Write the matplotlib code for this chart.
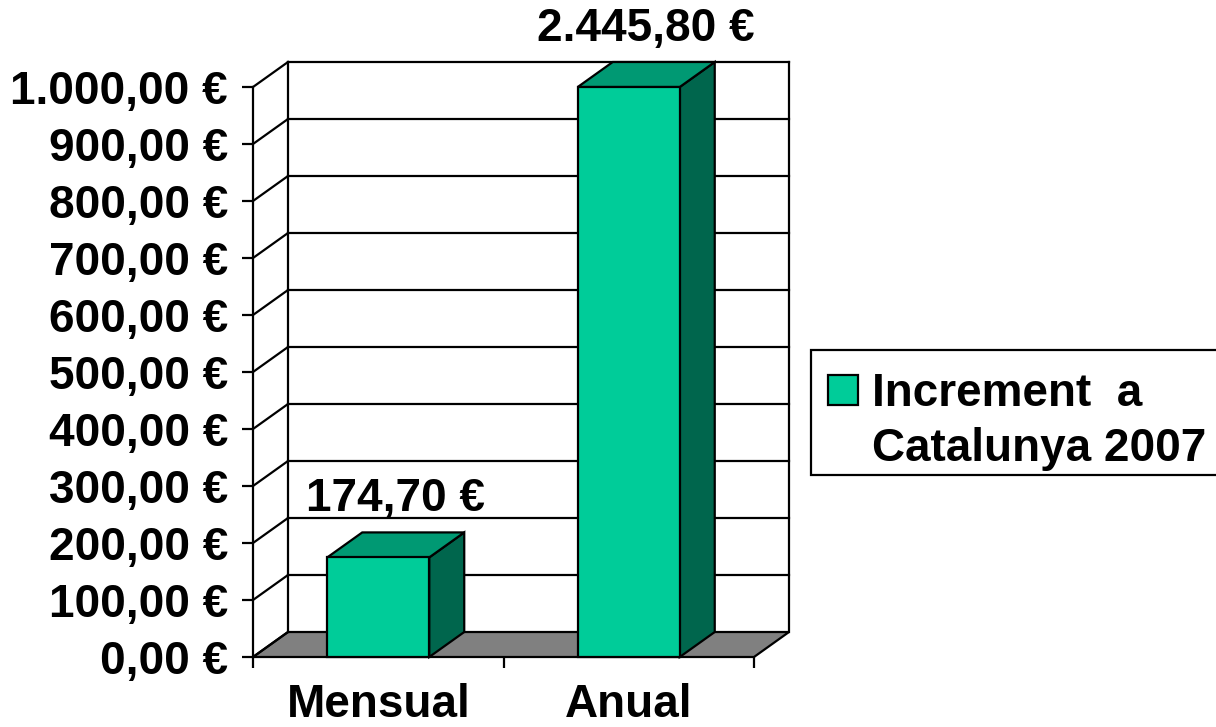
import matplotlib
matplotlib.use("Agg")
import matplotlib.pyplot as plt
from matplotlib.patches import Polygon, Rectangle

plt.rcParams['font.family'] = ['Liberation Sans', 'DejaVu Sans']
plt.rcParams['font.weight'] = 'bold'

# data
categories = ["Mensual", "Anual"]
values = [174.70, 2445.80]
series_name = "Increment  a\nCatalunya 2007"
y_max = 1000
y_ticks = list(range(0, 1001, 100))

# colours
front_col = "#00CC99"
top_col = "#009973"
side_col = "#00664D"
floor_col = "#808080"

FS = 33

def euro(v):
    s = f"{v:,.2f}"
    s = s.replace(",", "X").replace(".", ",").replace("X", ".")
    return s + " €"

fig = plt.figure(figsize=(12.16, 7.27), dpi=100)
W, H = 1216, 727
ax = fig.add_axes([253 / W, 70 / H, 501 / W, 570 / H])
ax.set_xlim(0, len(categories))
ax.set_ylim(0, y_max)

# depth of the 3D effect in data units (35 px right, 25 px up)
ddx = 35 / 250.5
ddy = 25 / 0.57
n = len(categories)
lw = 1.6

def poly(pts, fc, z):
    ax.add_patch(Polygon(pts, closed=True, facecolor=fc, edgecolor="black",
                         linewidth=lw, clip_on=False, zorder=z))

# floor
poly([(0, 0), (n, 0), (n + ddx, ddy), (ddx, ddy)], floor_col, 1)

# back wall gridlines and side wall diagonals
for t in y_ticks:
    if t > 0:
        ax.plot([ddx, n + ddx], [t + ddy, t + ddy], color="black", lw=lw,
                clip_on=False, zorder=1)
    ax.plot([0, ddx], [t, t + ddy], color="black", lw=lw, clip_on=False, zorder=1)
ax.plot([ddx, ddx], [ddy, y_max + ddy], color="black", lw=lw, clip_on=False, zorder=1)
ax.plot([n + ddx, n + ddx], [ddy, y_max + ddy], color="black", lw=lw, clip_on=False, zorder=1)

# bars
bw = 102 / 250.5
for i, v in enumerate(values):
    h = min(v, y_max)
    x0 = i + 0.5 - bw / 2
    x1 = i + 0.5 + bw / 2
    poly([(x1, 0), (x1 + ddx, ddy), (x1 + ddx, h + ddy), (x1, h)], side_col, 3)
    poly([(x0, h), (x1, h), (x1 + ddx, h + ddy), (x0 + ddx, h + ddy)], top_col, 3)
    poly([(x0, 0), (x1, 0), (x1, h), (x0, h)], front_col, 4)
    ax.annotate(euro(v), (i + 0.5 + ddx / 2, h + ddy), xytext=(0, 8),
                textcoords="offset points", ha="center", va="bottom",
                fontsize=FS, fontweight="bold", annotation_clip=False)

# axes styling
for s in ["top", "right", "bottom"]:
    ax.spines[s].set_visible(False)
ax.spines["left"].set_linewidth(lw)
ax.set_yticks(y_ticks)
ax.set_yticklabels([euro(t) for t in y_ticks], fontsize=FS, fontweight="bold")
ax.tick_params(axis="y", length=8, width=lw, pad=10)
ax.set_xticks(range(n + 1))
ax.set_xticklabels([""] * (n + 1))
ax.tick_params(axis="x", which="major", length=8, width=lw)
ax.set_xticks([i + 0.5 for i in range(n)], minor=True)
ax.set_xticklabels(categories, minor=True, fontsize=FS, fontweight="bold")
ax.tick_params(axis="x", which="minor", length=0, pad=19)
ax.patch.set_visible(False)

# legend (drawn by hand to match the clipped box)
fig.patches.append(Rectangle((811 / W, 1 - 475 / H), 420 / W, 125 / H,
                             transform=fig.transFigure, facecolor="white",
                             edgecolor="black", linewidth=lw))
fig.patches.append(Rectangle((828 / W, 1 - 405 / H), 30 / W, 30 / H,
                             transform=fig.transFigure, facecolor=front_col,
                             edgecolor="black", linewidth=lw))
fig.text(872 / W, 1 - 406 / H, series_name.split("\n")[0], fontsize=FS,
         fontweight="bold", va="baseline")
fig.text(872 / W, 1 - 461 / H, series_name.split("\n")[1], fontsize=FS,
         fontweight="bold", va="baseline")

fig.savefig("out.png", dpi=100)
